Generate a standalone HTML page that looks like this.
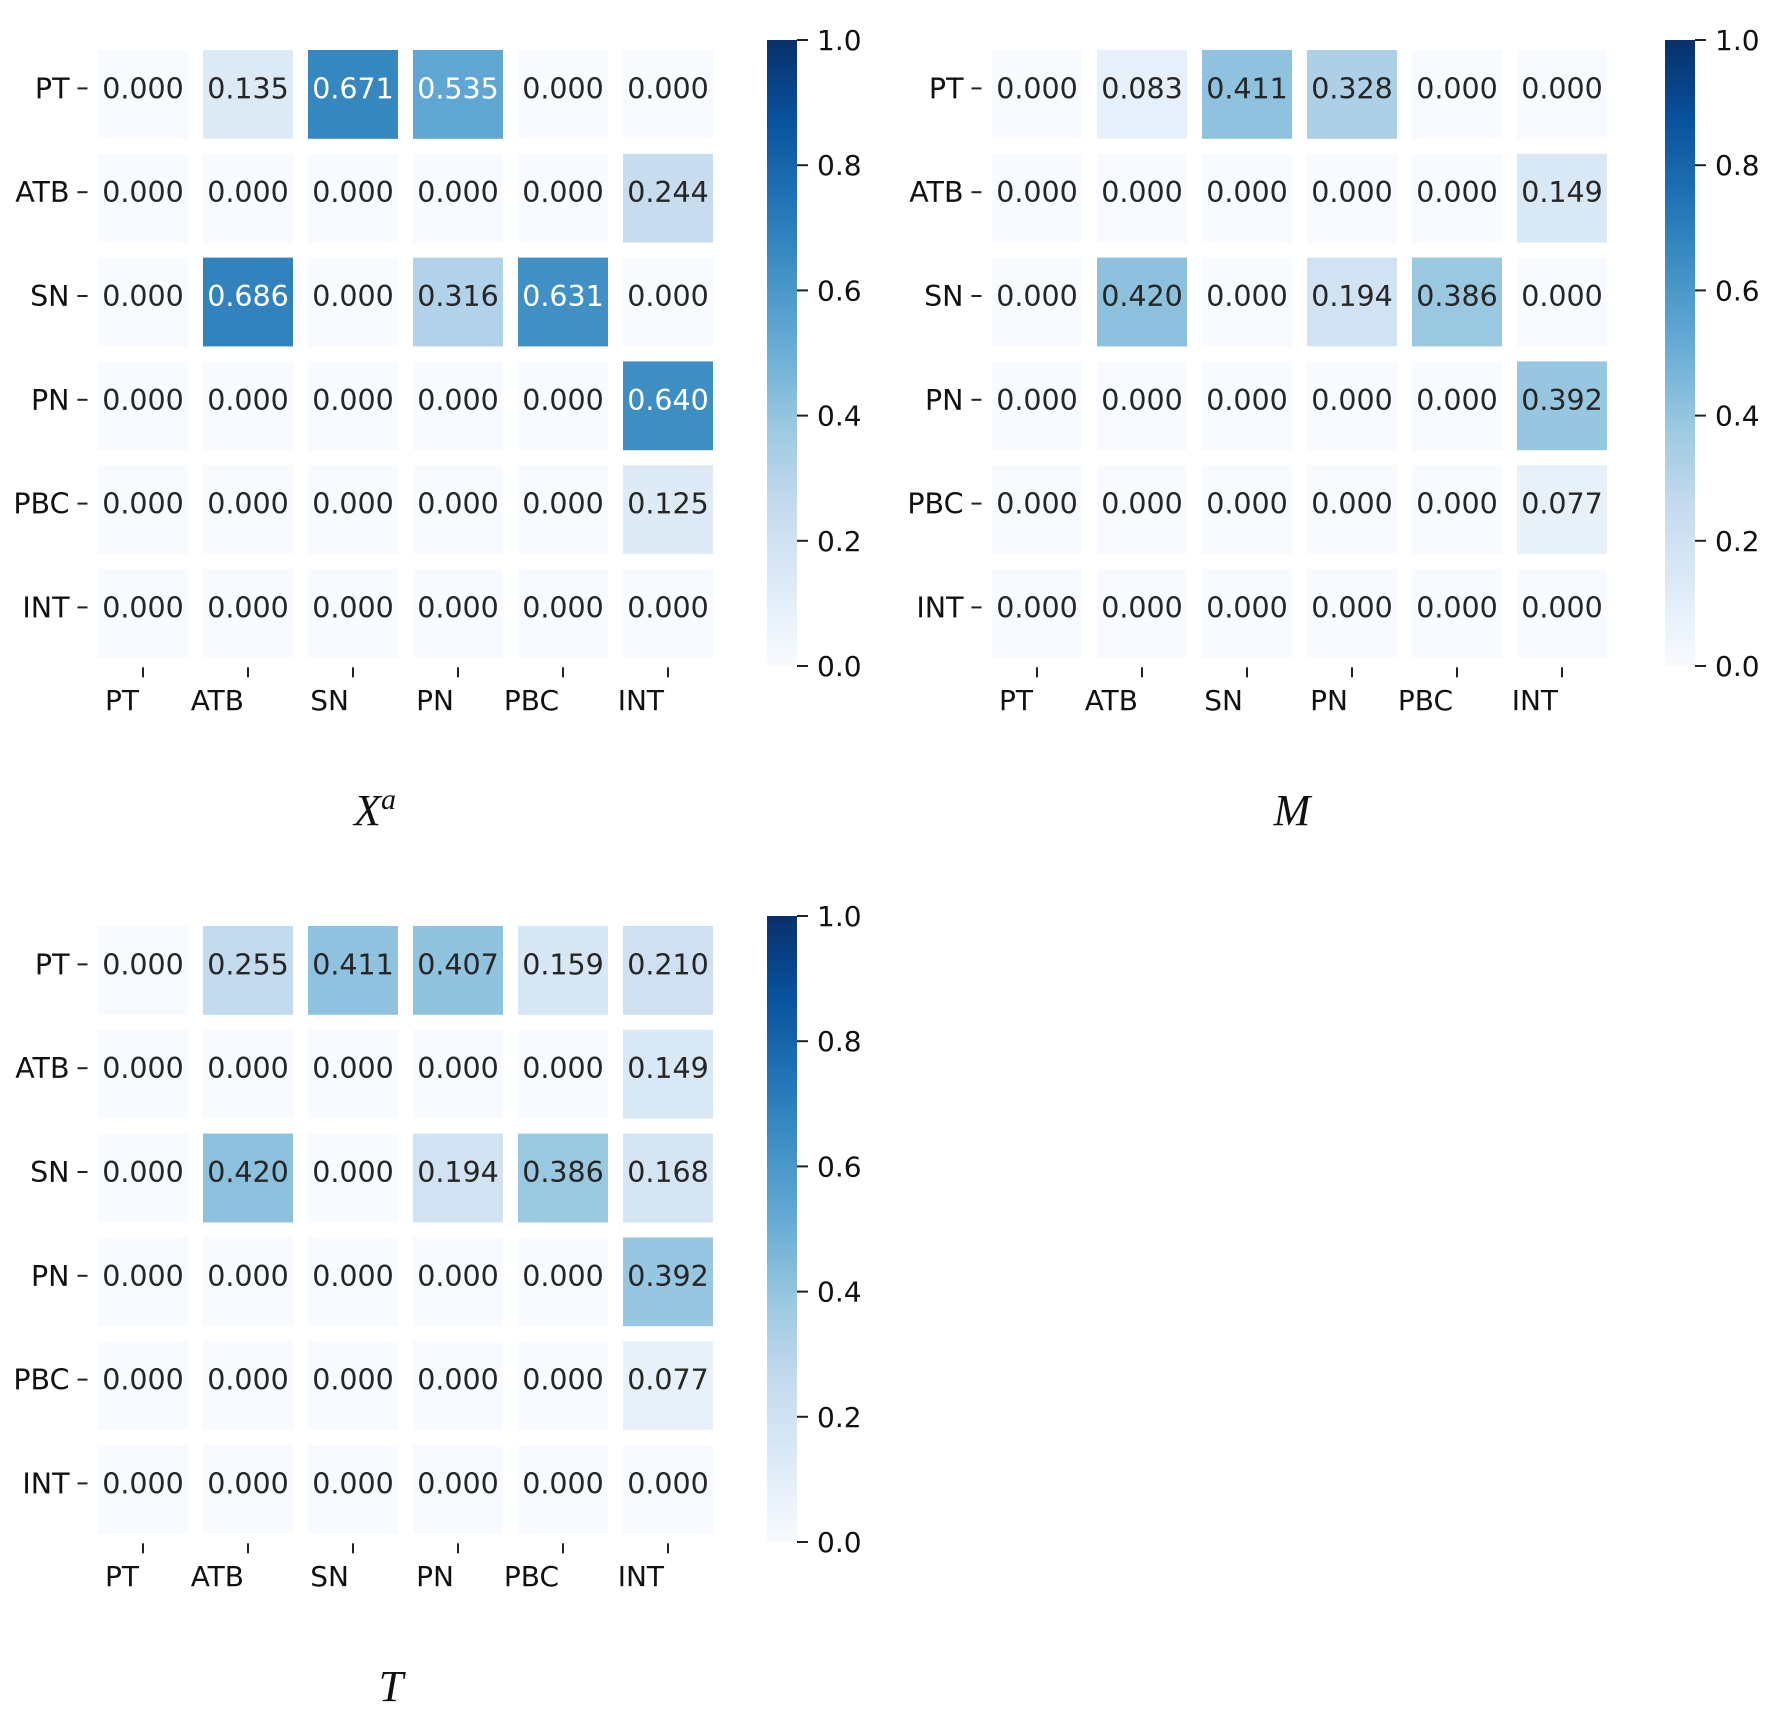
<!DOCTYPE html>
<html><head><meta charset="utf-8">
<style>
html,body{margin:0;padding:0;background:#fff;}
svg{display:block;}
text{font-family:"DejaVu Sans","Liberation Sans",sans-serif;}
.ttl{font-family:"Liberation Serif","DejaVu Serif",serif;font-style:italic;}
</style></head>
<body>
<svg id="fig" width="1772" height="1722" viewBox="0 0 1772 1722" xmlns="http://www.w3.org/2000/svg">
<defs>
<linearGradient id="blues" x1="0" y1="1" x2="0" y2="0">
<stop offset="0" stop-color="#f7fbff"/><stop offset="0.125" stop-color="#deebf7"/><stop offset="0.25" stop-color="#c6dbef"/><stop offset="0.375" stop-color="#9ecae1"/><stop offset="0.5" stop-color="#6baed6"/><stop offset="0.625" stop-color="#4292c6"/><stop offset="0.75" stop-color="#2171b5"/><stop offset="0.875" stop-color="#08519c"/><stop offset="1" stop-color="#08306b"/>
</linearGradient>
</defs>
</svg>
<script>
const labels = ["PT","ATB","SN","PN","PBC","INT"];
const cbarTicks = [0.0,0.2,0.4,0.6,0.8,1.0];
const valuesXa = [
 [0,0.135,0.671,0.535,0,0],
 [0,0,0,0,0,0.244],
 [0,0.686,0,0.316,0.631,0],
 [0,0,0,0,0,0.640],
 [0,0,0,0,0,0.125],
 [0,0,0,0,0,0]];
const valuesM = [
 [0,0.083,0.411,0.328,0,0],
 [0,0,0,0,0,0.149],
 [0,0.420,0,0.194,0.386,0],
 [0,0,0,0,0,0.392],
 [0,0,0,0,0,0.077],
 [0,0,0,0,0,0]];
const valuesT = [
 [0,0.255,0.411,0.407,0.159,0.210],
 [0,0,0,0,0,0.149],
 [0,0.420,0,0.194,0.386,0.168],
 [0,0,0,0,0,0.392],
 [0,0,0,0,0,0.077],
 [0,0,0,0,0,0]];

const NS = "http://www.w3.org/2000/svg";
const svg = document.getElementById('fig');
const stops = [[247,251,255],[222,235,247],[198,219,239],[158,202,225],[107,174,214],[66,146,198],[33,113,181],[8,81,156],[8,48,107]];
function blues(v){
  v = Math.max(0, Math.min(1, v));
  const p = v*8, i = Math.min(7, Math.floor(p)), f = p - i;
  const a = stops[i], b = stops[i+1];
  return [0,1,2].map(k => Math.round(a[k] + (b[k]-a[k])*f));
}
function lum(c){
  const l = c.map(x => { x/=255; return x <= 0.03928 ? x/12.92 : Math.pow((x+0.055)/1.055, 2.4); });
  return 0.2126*l[0] + 0.7152*l[1] + 0.0722*l[2];
}
function mk(tag, attrs, parent){
  const e = document.createElementNS(NS, tag);
  for (const k in attrs) e.setAttribute(k, attrs[k]);
  (parent || svg).appendChild(e);
  return e;
}

function panel(values, ox, oy, cbx, name, titleX, titleMain, titleSup){
  const g = mk('g', {});
  
  
  const AX = ox, AY = oy + 42.5, CW = 105, RH = 103.8, ins = 7.5;
  const xc = j => AX + CW*(j + 0.5);
  const yc = i => AY + RH*(i + 0.5);
  for (let i = 0; i < labels.length; i++){
    for (let j = 0; j < labels.length; j++){
      const v = values[i][j];
      const c = blues(v);
      const r = mk('rect', {x: xc(j)-CW/2+ins, y: yc(i)-RH/2+ins, width: CW-2*ins, height: RH-2*ins, fill: `rgb(${c[0]},${c[1]},${c[2]})`}, g);
      
      
      const t = mk('text', {x: xc(j), y: yc(i) + 4, 'text-anchor': 'middle', 'font-size': 28.5, fill: lum(c) > 0.408 ? '#262626' : '#ffffff'}, g);
      t.textContent = v.toFixed(3);
      
      
    }
  }
  labels.forEach((lab, i) => {
    mk('line', {x1: AX-13, x2: AX-3, y1: yc(i)-6, y2: yc(i)-6, stroke: '#222', 'stroke-width': 2}, g);
    const t = mk('text', {x: AX-21, y: yc(i)+4, 'text-anchor': 'end', 'font-size': 28.5, fill: '#111'}, g);
    t.textContent = lab;
    
    
  });
  const AB = AY + RH*6;
  labels.forEach((lab, j) => {
    mk('line', {x1: xc(j), x2: xc(j), y1: AB+2, y2: AB+12, stroke: '#222', 'stroke-width': 2}, g);
    const t = mk('text', {x: xc(j)-4, y: oy + 710, 'text-anchor': 'end', 'font-size': 28, fill: '#111'}, g);
    t.textContent = lab;
    
    
  });
  const cTop = oy + 40, cBot = oy + 666;
  const cb = mk('rect', {x: cbx, y: cTop, width: 30, height: cBot-cTop, fill: 'url(#blues)'}, g);
  
  
  const cy = v => cBot - (cBot-cTop)*v;
  cbarTicks.forEach(v => {
    mk('line', {x1: cbx+30, x2: cbx+41, y1: cy(v), y2: cy(v), stroke: '#222', 'stroke-width': 2}, g);
    const t = mk('text', {x: cbx+50, y: cy(v)+10, 'font-size': 28, fill: '#111'}, g);
    t.textContent = v.toFixed(1);
    
    
  });
  const tt = mk('text', {x: titleX, y: oy + 825, 'text-anchor': 'middle', 'font-size': 44, fill: '#111', class: 'ttl'}, g);
  
  
  tt.appendChild(document.createTextNode(titleMain));
  if (titleSup){
    const s = mk('tspan', {dy: -16, 'font-size': 30}, tt);
    s.textContent = titleSup;
  }
}
panel(valuesXa, 90.5, 0, 767, 'heatmap-xa', 375, 'X', 'a');
panel(valuesM, 984.5, 0, 1665, 'heatmap-m', 1292, 'M', '');
panel(valuesT, 90.5, 876, 767, 'heatmap-t', 391, 'T', '');
</script>
</body></html>
